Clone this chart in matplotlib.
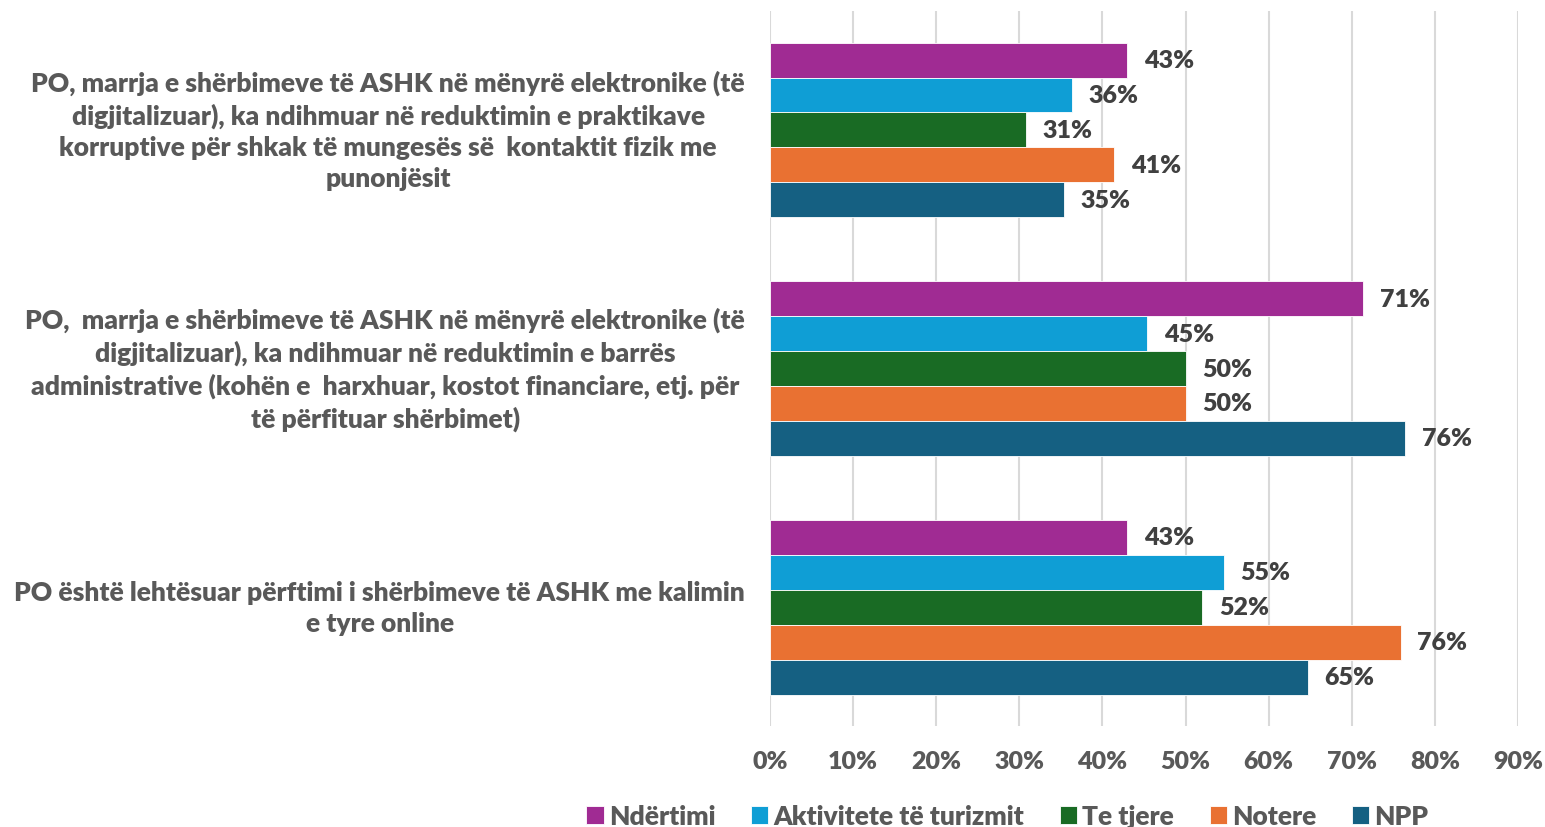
import matplotlib
matplotlib.use("Agg")
import matplotlib.pyplot as plt
import numpy as np

categories = [
    "PO, marrja e shërbimeve të ASHK në mënyrë elektronike (të\ndigjitalizuar), ka ndihmuar në reduktimin e praktikave\nkorruptive për shkak të mungesës së  kontaktit fizik me\npunonjësit",
    "PO,  marrja e shërbimeve të ASHK në mënyrë elektronike (të\ndigjitalizuar), ka ndihmuar në reduktimin e barrës\nadministrative (kohën e  harxhuar, kostot financiare, etj. për\ntë përfituar shërbimet)",
    "PO është lehtësuar përftimi i shërbimeve të ASHK me kalimin\ne tyre online",
]
series_names = ["Ndërtimi", "Aktivitete të turizmit", "Te tjere", "Notere", "NPP"]
ndertimi = [0.43, 0.714, 0.43]
turizmi = [0.363, 0.454, 0.546]
te_tjere = [0.308, 0.50, 0.52]
notere = [0.414, 0.50, 0.759]
npp = [0.354, 0.764, 0.647]
series_values = [ndertimi, turizmi, te_tjere, notere, npp]
colors = ["#A02B93", "#0F9ED5", "#196B24", "#E97132", "#156082"]
xticks = [0, 0.1, 0.2, 0.3, 0.4, 0.5, 0.6, 0.7, 0.8, 0.9]

FONT = ["Lato", "DejaVu Sans"]
plt.rcParams["font.family"] = FONT

fig = plt.figure(figsize=(15.45, 8.28), dpi=100)
ax = fig.add_axes([0.4984, 0.1214, 0.9825 - 0.4984, 0.986 - 0.1214])

h = 0.1464
y = np.arange(len(categories))
for j, (name, vals, c) in enumerate(zip(series_names, series_values, colors)):
    pos = y + (j - 2) * h
    ax.barh(pos, vals, height=h, color=c, edgecolor="white", linewidth=0.6,
            label=name, zorder=3)
    for p, v in zip(pos, vals):
        ax.annotate(f"{v:.0%}", xy=(v, p), xytext=(12, 0), textcoords="offset points",
                    ha="left", va="center", fontsize=18, fontweight="heavy",
                    color="#404040")

ax.set_ylim(2.5, -0.5)
ax.set_xlim(0, 0.9)
ax.set_xticks(xticks)
ax.set_xticklabels([f"{t:.0%}" for t in xticks], fontsize=18, fontweight="heavy", color="#595959")
ax.set_yticks(y)
ax.set_yticklabels(categories, fontsize=19, fontweight="heavy", color="#595959",
                   multialignment="center", linespacing=1.36, va="center")
ax.tick_params(axis="both", length=0)
ax.tick_params(axis="x", pad=17)
ax.tick_params(axis="y", pad=18)
ax.grid(axis="x", color="#D9D9D9", linewidth=1.5, zorder=0)
for s in ax.spines.values():
    s.set_visible(False)

leg = fig.legend(loc="lower center", bbox_to_anchor=(0.652, -0.03), ncol=5, frameon=False,
                 prop={"size": 19, "weight": "heavy", "family": FONT},
                 handlelength=0.65, handleheight=0.65, handletextpad=0.2, columnspacing=1.35)
for t in leg.get_texts():
    t.set_color("#595959")

fig.savefig("out.png", dpi=100)
